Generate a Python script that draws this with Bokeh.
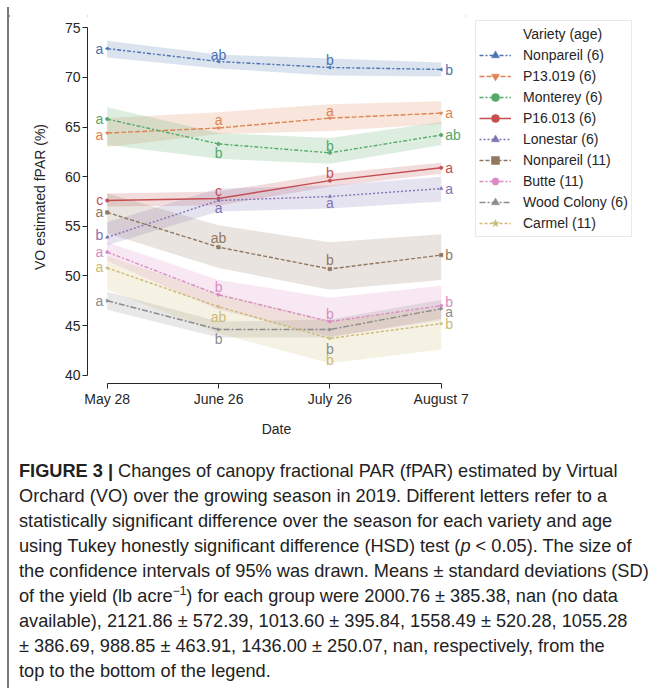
import math
from bokeh.plotting import figure
from bokeh.models import FixedTicker, Legend, LegendItem, Div, Column, Row, ColumnDataSource
from bokeh.embed import file_html
from bokeh.resources import INLINE
from bokeh.core.properties import value

# ---------------- data ----------------
DATES = ["May 28", "June 26", "July 26", "August 7"]
VARIETIES = ["Nonpareil (6)", "P13.019 (6)", "Monterey (6)", "P16.013 (6)", "Lonestar (6)",
             "Nonpareil (11)", "Butte (11)", "Wood Colony (6)", "Carmel (11)"]

NONPAREIL6_MEAN = [72.9, 71.6, 71.0, 70.8]
NONPAREIL6_LO = [72.0, 70.9, 70.2, 70.1]
NONPAREIL6_HI = [73.7, 72.3, 71.9, 71.5]
NONPAREIL6_LET = ["a", "ab", "b", "b"]

P13019_MEAN = [64.4, 64.9, 65.9, 66.4]
P13019_LO = [63.0, 64.3, 64.6, 65.3]
P13019_HI = [65.9, 66.5, 67.3, 67.6]
P13019_LET = ["a", "a", "a", "a"]

MONTEREY_MEAN = [65.8, 63.3, 62.4, 64.2]
MONTEREY_LO = [63.2, 61.8, 61.3, 63.2]
MONTEREY_HI = [67.0, 64.4, 63.9, 65.5]
MONTEREY_LET = ["a", "b", "b", "ab"]

P16013_MEAN = [57.6, 57.8, 59.6, 60.9]
P16013_LO = [57.0, 57.1, 59.0, 60.3]
P16013_HI = [58.3, 58.5, 60.3, 61.4]
P16013_LET = ["c", "c", "b", "a"]

LONESTAR_MEAN = [53.9, 57.6, 58.0, 58.8]
LONESTAR_LO = [53.1, 56.5, 56.8, 57.5]
LONESTAR_HI = [55.4, 58.8, 59.1, 60.0]
LONESTAR_LET = ["b", "a", "a", "a"]

NONPAREIL11_MEAN = [56.4, 52.9, 50.7, 52.1]
NONPAREIL11_LO = [54.3, 50.8, 48.6, 49.6]
NONPAREIL11_HI = [58.3, 55.1, 53.4, 54.2]
NONPAREIL11_LET = ["a", "ab", "b", "b"]

BUTTE_MEAN = [52.4, 48.1, 45.4, 47.0]
BUTTE_LO = [51.5, 46.6, 43.9, 45.5]
BUTTE_HI = [53.4, 49.6, 47.8, 49.0]
BUTTE_LET = ["a", "b", "b", "b"]

WOODCOLONY_MEAN = [47.5, 44.6, 44.6, 46.7]
WOODCOLONY_LO = [46.6, 43.8, 43.8, 45.7]
WOODCOLONY_HI = [48.4, 45.4, 45.6, 47.6]
WOODCOLONY_LET = ["a", "b", "b", "a"]

CARMEL_MEAN = [50.8, 46.9, 43.7, 45.2]
CARMEL_LO = [48.6, 44.2, 41.2, 42.6]
CARMEL_HI = [52.0, 48.2, 45.5, 46.8]
CARMEL_LET = ["a", "ab", "b", "b"]

Y_TICKS = [40, 45, 50, 55, 60, 65, 70, 75]

SERIES = [
    (NONPAREIL6_MEAN, NONPAREIL6_LO, NONPAREIL6_HI, NONPAREIL6_LET),
    (P13019_MEAN, P13019_LO, P13019_HI, P13019_LET),
    (MONTEREY_MEAN, MONTEREY_LO, MONTEREY_HI, MONTEREY_LET),
    (P16013_MEAN, P16013_LO, P16013_HI, P16013_LET),
    (LONESTAR_MEAN, LONESTAR_LO, LONESTAR_HI, LONESTAR_LET),
    (NONPAREIL11_MEAN, NONPAREIL11_LO, NONPAREIL11_HI, NONPAREIL11_LET),
    (BUTTE_MEAN, BUTTE_LO, BUTTE_HI, BUTTE_LET),
    (WOODCOLONY_MEAN, WOODCOLONY_LO, WOODCOLONY_HI, WOODCOLONY_LET),
    (CARMEL_MEAN, CARMEL_LO, CARMEL_HI, CARMEL_LET),
]

# ---------------- styles ----------------
COLORS = ["#4C72B0", "#DD8452", "#55A868", "#C44E52", "#8172B3",
          "#937860", "#DA8BC3", "#8C8C8C", "#CCB974"]
DASHES = ["4 2 2 2", "5 2", "4 2 2 2", "solid", "2 2",
          "4 2", "4 2 2 2", "6 2 2 2", "3 2"]
MARKERS = ["triangle", "inverted_triangle", "circle", "circle", "triangle",
           "square", "hex", "triangle", "star"]
ANGLES = [math.pi / 2, 0, 0, 0, 0, 0, math.pi / 6, -math.pi / 2, 0]
# vertical pixel shift of the significance letters (positive = down)
LETTER_SHIFT = [
    [0, -7, -7, 1],
    [2, -8, -7, 0],
    [0, 9, -7, 0],
    [0, -8, -8, 0],
    [-2, 8, 6, 0],
    [0, -9, -9, 0],
    [0, -8, -8, -4],
    [0, 9, 19, 3],
    [-1, 10, 22, 0],
]

FONT = "Liberation Sans"
TEXT = "#262626"
FS = "14px"
BORDER = "#7a7a7a"

XPOS = list(range(len(DATES)))

p = figure(frame_width=378, frame_height=373, x_range=(-0.177, 3.218), y_range=(39.165, 76.74),
           output_backend="svg", toolbar_location=None,
           min_border_left=78, min_border_top=3, min_border_bottom=67, min_border_right=0)
p.xgrid.visible = False
p.ygrid.visible = False
p.outline_line_color = None
p.background_fill_color = "white"
p.border_fill_color = "white"

# bands first (below all lines)
for (m, lo, hi, let), col in zip(SERIES, COLORS):
    p.varea(x=XPOS, y1=lo, y2=hi, fill_color=col, fill_alpha=0.2)

line_rs = []
for i, ((m, lo, hi, let), col) in enumerate(zip(SERIES, COLORS)):
    lr = p.line(x=XPOS, y=m, line_color=col, line_width=1.4, line_dash=DASHES[i])
    sr = p.scatter(x=XPOS, y=m, marker=MARKERS[i], size=3.5, angle=ANGLES[i],
                   fill_color=col, line_color=col, line_width=0.5)
    line_rs.append((lr, sr))

# significance letters
for i, ((m, lo, hi, let), col) in enumerate(zip(SERIES, COLORS)):
    sh = LETTER_SHIFT[i]
    groups = [([0], "right", -4), ([1, 2], "center", 0), ([3], "left", 4)]
    for idx, align, xo in groups:
        src = ColumnDataSource(dict(x=[XPOS[k] for k in idx], y=[m[k] for k in idx],
                                    t=[let[k] for k in idx], dy=[sh[k] for k in idx]))
        p.text(x="x", y="y", text="t", source=src, text_color=col, text_align=align,
               text_baseline="middle", x_offset=xo, y_offset="dy",
               text_font=value(FONT), text_font_size=FS)

# axes
p.yaxis.ticker = FixedTicker(ticks=Y_TICKS)
p.yaxis.bounds = (Y_TICKS[0], Y_TICKS[-1])
p.xaxis.ticker = FixedTicker(ticks=XPOS)
p.xaxis.bounds = (XPOS[0], XPOS[-1])
p.xaxis.major_label_overrides = {k: d for k, d in zip(XPOS, DATES)}
for ax in (p.xaxis, p.yaxis):
    ax.axis_line_color = TEXT
    ax.axis_line_width = 1
    ax.major_tick_line_color = TEXT
    ax.major_tick_in = 0
    ax.major_tick_out = 5
    ax.minor_tick_in = 0
    ax.minor_tick_out = 0
    ax.major_label_text_font = FONT
    ax.major_label_text_font_size = FS
    ax.major_label_text_color = TEXT
    ax.major_label_standoff = 2
    ax.axis_label_text_font = FONT
    ax.axis_label_text_font_size = FS
    ax.axis_label_text_font_style = "normal"
    ax.axis_label_text_color = TEXT
p.xaxis.axis_label = "Date"
p.xaxis.axis_label_standoff = 11
p.yaxis.axis_label = "VO estimated fPAR (%)"
p.yaxis.axis_label_standoff = 14

# legend
title_r = p.line(x=[0], y=[float("nan")], line_alpha=0)
items = [LegendItem(label="Variety (age)", renderers=[title_r])]
for name, (lr, sr) in zip(VARIETIES, line_rs):
    items.append(LegendItem(label=name, renderers=[lr, sr]))
legend = Legend(items=items, location="top_left", margin=10, padding=3, spacing=1,
                glyph_width=32, glyph_height=20, label_height=20, label_standoff=12,
                label_text_font=FONT, label_text_font_size=FS, label_text_color=TEXT,
                border_line_color="#d3d3d3", border_line_width=1,
                background_fill_color="white", background_fill_alpha=1)
p.add_layout(legend, "right")

caption_html = (
    '<div style="font-family:\'Liberation Sans\',Arial,sans-serif;font-size:18.2px;'
    'line-height:25px;color:#222;white-space:nowrap;padding-left:10px;padding-top:9px;">'
    '<b>FIGURE 3 |</b> Changes of canopy fractional PAR (fPAR) estimated by Virtual<br>'
    'Orchard (VO) over the growing season in 2019. Different letters refer to a<br>'
    'statistically significant difference over the season for each variety and age<br>'
    'using Tukey honestly significant difference (HSD) test (<i>p</i> &lt; 0.05). The size of<br>'
    'the confidence intervals of 95% was drawn. Means ± standard deviations (SD)<br>'
    'of the yield (lb acre<sup style="font-size:12px;line-height:0;">−1</sup>) for each group were 2000.76 ± 385.38, nan (no data<br>'
    'available), 2121.86 ± 572.39, 1013.60 ± 395.84, 1558.49 ± 520.28, 1055.28<br>'
    '± 386.69, 988.85 ± 463.91, 1436.00 ± 250.07, nan, respectively, from the<br>'
    'top to the bottom of the legend.'
    '</div>'
)
caption = Div(text=caption_html, width=636, height=238, margin=0)

# frame lines (left and top border of the figure panel), drawn as inline svg
top_line = Div(text='<svg width="646" height="2" style="display:block">'
                    '<rect x="0" y="0" width="646" height="2" fill="%s"/></svg>' % BORDER,
               width=646, height=2, margin=(5, 0, 0, 7))
left_line = Div(text='<svg width="2" height="681" style="display:block">'
                     '<rect x="0" y="0" width="2" height="681" fill="%s"/></svg>' % BORDER,
                width=2, height=681, margin=(0, 0, 0, 7))

page = Column(children=[top_line,
                        Row(children=[left_line, Column(children=[p, caption], margin=0)],
                            margin=0)],
              margin=0)

open("out.html", "w", encoding="utf-8").write(file_html(page, INLINE))
